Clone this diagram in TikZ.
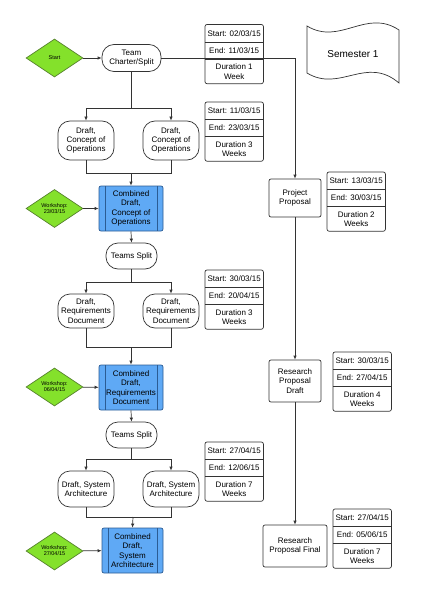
\documentclass[tikz,border=0pt]{standalone}
\usepackage{fontspec}
\setmainfont{Liberation Sans}
\usetikzlibrary{shapes.geometric, positioning, arrows.meta}

\definecolor{linea}{HTML}{333333}
\definecolor{verde}{HTML}{84E12B}
\definecolor{verdeosc}{HTML}{55802C}
\definecolor{azul}{HTML}{5FA9F5}
\definecolor{azulosc}{HTML}{2B5C94}

\tikzset{
  caja/.style={draw=linea, line width=0.7pt},
  texto/.style={font=\fontsize{8}{9.3}\selectfont, align=center, inner sep=0pt},
  terminal/.style={caja, texto, fill=white, rounded corners=12pt},
  proceso/.style={caja, texto, fill=white, rounded corners=2pt},
  combinado/.style={texto, draw=azulosc, line width=0.7pt, fill=azul, rounded corners=2pt,
    minimum height=45pt,
    path picture={
      \draw[azulosc, line width=0.7pt] ([xshift=6pt]path picture bounding box.north west) -- ([xshift=6pt]path picture bounding box.south west);
      \draw[azulosc, line width=0.7pt] ([xshift=-6pt]path picture bounding box.north east) -- ([xshift=-6pt]path picture bounding box.south east);
    }},
  rombo/.style={diamond, draw=verdeosc, line width=0.7pt, fill=verde, minimum width=57pt,
    minimum height=38pt, inner sep=0pt, align=center, font=\fontsize{5.5}{6}\selectfont},
  fila/.style={texto, minimum width=58pt, minimum height=17pt},
  flecha/.style={draw=linea, line width=0.7pt, -{Latex[length=4pt,width=3.5pt]}},
  union/.style={draw=linea, line width=0.7pt}
}

% Caja de fechas: nombre, esquina, inicio, fin, duracion
\newcommand{\fechas}[5]{%
  \node[fila, anchor=north west] (#1a) at #2 {#3};
  \node[fila, below=0pt of #1a] (#1b) {#4};
  \node[fila, minimum height=24pt, below=0pt of #1b] (#1c) {#5};
  \draw[caja, rounded corners=2pt] (#1a.north west) rectangle (#1c.south east);
  \draw[caja] (#1a.south west) -- (#1a.south east);
  \draw[caja] (#1b.south west) -- (#1b.south east);
}

\begin{document}
\begin{tikzpicture}[x=1pt, y=-1pt]

		\useasboundingbox (0,0) rectangle (424,599);

		% Semestre
		\draw[caja] (307,26) .. controls (340,46) and (366,8) .. (399,30)
			-- (399,83) .. controls (366,55) and (340,93) .. (307,73) -- cycle;
		\node[font=\fontsize{10}{12}\selectfont] (semestre) at (353,54) {Semester 1};

		% Columna izquierda
		\node[rombo] (inicio) at (54.5,58) {Start};
		\node[terminal, minimum width=59pt, minimum height=27pt] (equipo) at (131.5,58) {Team\\Charter/Split};

		\node[terminal, minimum width=56pt, minimum height=39pt] (conopsA) at (86,140.5) {Draft,\\Concept of\\Operations};
		\node[terminal, minimum width=56pt, minimum height=39pt] (conopsB) at (171,140.5) {Draft,\\Concept of\\Operations};

		\node[rombo] (taller1) at (54.5,208.5) {Workshop:\\23/03/15};
		\node[combinado, minimum width=64pt] (comb1) at (131,208.5) {Combined\\Draft,\\Concept of\\Operations};

		\node[terminal, minimum width=51pt, minimum height=26pt] (split1) at (131.5,256) {Teams Split};

		\node[terminal, minimum width=56pt, minimum height=34pt] (reqA) at (86,311) {Draft,\\Requirements\\Document};
		\node[terminal, minimum width=56pt, minimum height=34pt] (reqB) at (171,311) {Draft,\\Requirements\\Document};

		\node[rombo] (taller2) at (54.5,387) {Workshop:\\06/04/15};
		\node[combinado, minimum width=64pt] (comb2) at (131,387.5) {Combined\\Draft,\\Requirements\\Document};

		\node[terminal, minimum width=51pt, minimum height=26pt] (split2) at (131.5,435) {Teams Split};

		\node[terminal, minimum width=56pt, minimum height=36pt] (arqA) at (86,489) {Draft, System\\Architecture};
		\node[terminal, minimum width=56pt, minimum height=36pt] (arqB) at (171,489) {Draft, System\\Architecture};

		\node[rombo] (taller3) at (54.5,551) {Workshop:\\27/04/15};
		\node[combinado, minimum width=61pt] (comb3) at (132.5,550.5) {Combined\\Draft,\\System\\Architecture};

		% Columna derecha
		\node[proceso, minimum width=52pt, minimum height=38pt] (propuesta) at (295,198) {Project\\Proposal};
		\node[proceso, minimum width=52pt, minimum height=42pt] (borrador) at (295,381) {Research\\Proposal\\Draft};
		\node[proceso, minimum width=64pt, minimum height=42pt] (final) at (295,546) {Research\\Proposal Final};

		% Fechas
		\fechas{f1}{(205,24.5)}{Start: 02/03/15}{End: 11/03/15}{Duration 1\\Week}
		\fechas{f2}{(205,102)}{Start: 11/03/15}{End: 23/03/15}{Duration 3\\Weeks}
		\fechas{f3}{(205,270)}{Start: 30/03/15}{End: 20/04/15}{Duration 3\\Weeks}
		\fechas{f4}{(205,442)}{Start: 27/04/15}{End: 12/06/15}{Duration 7\\Weeks}
		\fechas{fp}{(327,172)}{Start: 13/03/15}{End: 30/03/15}{Duration 2\\Weeks}
		\fechas{fb}{(333,352)}{Start: 30/03/15}{End: 27/04/15}{Duration 4\\Weeks}
		\fechas{ff}{(333,509)}{Start: 27/04/15}{End: 05/06/15}{Duration 7\\Weeks}

		% Puntos de union
		\coordinate (r1) at (131.5,108);
		\coordinate (m1) at (131,173);
		\coordinate (r2) at (131.5,282);
		\coordinate (m2) at (131,347);
		\coordinate (r3) at (131.5,459);
		\coordinate (m3) at (133,517);

		% Conexiones
		\draw[flecha] (inicio) -- (equipo);
		\draw[flecha] (equipo.east) -| (propuesta.north);
		\draw[union] (equipo.south) -- (r1);
		\draw[flecha] (r1) -| (conopsA.north);
		\draw[flecha] (r1) -| (conopsB.north);
		\draw[union] (conopsA.south) |- (m1);
		\draw[union] (conopsB.south) |- (m1);
		\draw[flecha] (m1) -- (comb1.north);
		\draw[flecha] (taller1) -- (comb1);

		\draw[flecha] (comb1.south) -- (split1.north);
		\draw[union] (split1.south) -- (r2);
		\draw[flecha] (r2) -| (reqA.north);
		\draw[flecha] (r2) -| (reqB.north);
		\draw[union] (reqA.south) |- (m2);
		\draw[union] (reqB.south) |- (m2);
		\draw[flecha] (m2) -- (comb2.north);
		\draw[flecha] (taller2) -- (comb2);

		\draw[flecha] (comb2.south) -- (split2.north);
		\draw[union] (split2.south) -- (r3);
		\draw[flecha] (r3) -| (arqA.north);
		\draw[flecha] (r3) -| (arqB.north);
		\draw[union] (arqA.south) |- (m3);
		\draw[union] (arqB.south) |- (m3);
		\draw[flecha] (m3) -- (comb3.north);
		\draw[flecha] (taller3) -- (comb3);

		\draw[flecha] (propuesta) -- (borrador);
		\draw[flecha] (borrador) -- (final);

	\end{tikzpicture}
\end{document}
